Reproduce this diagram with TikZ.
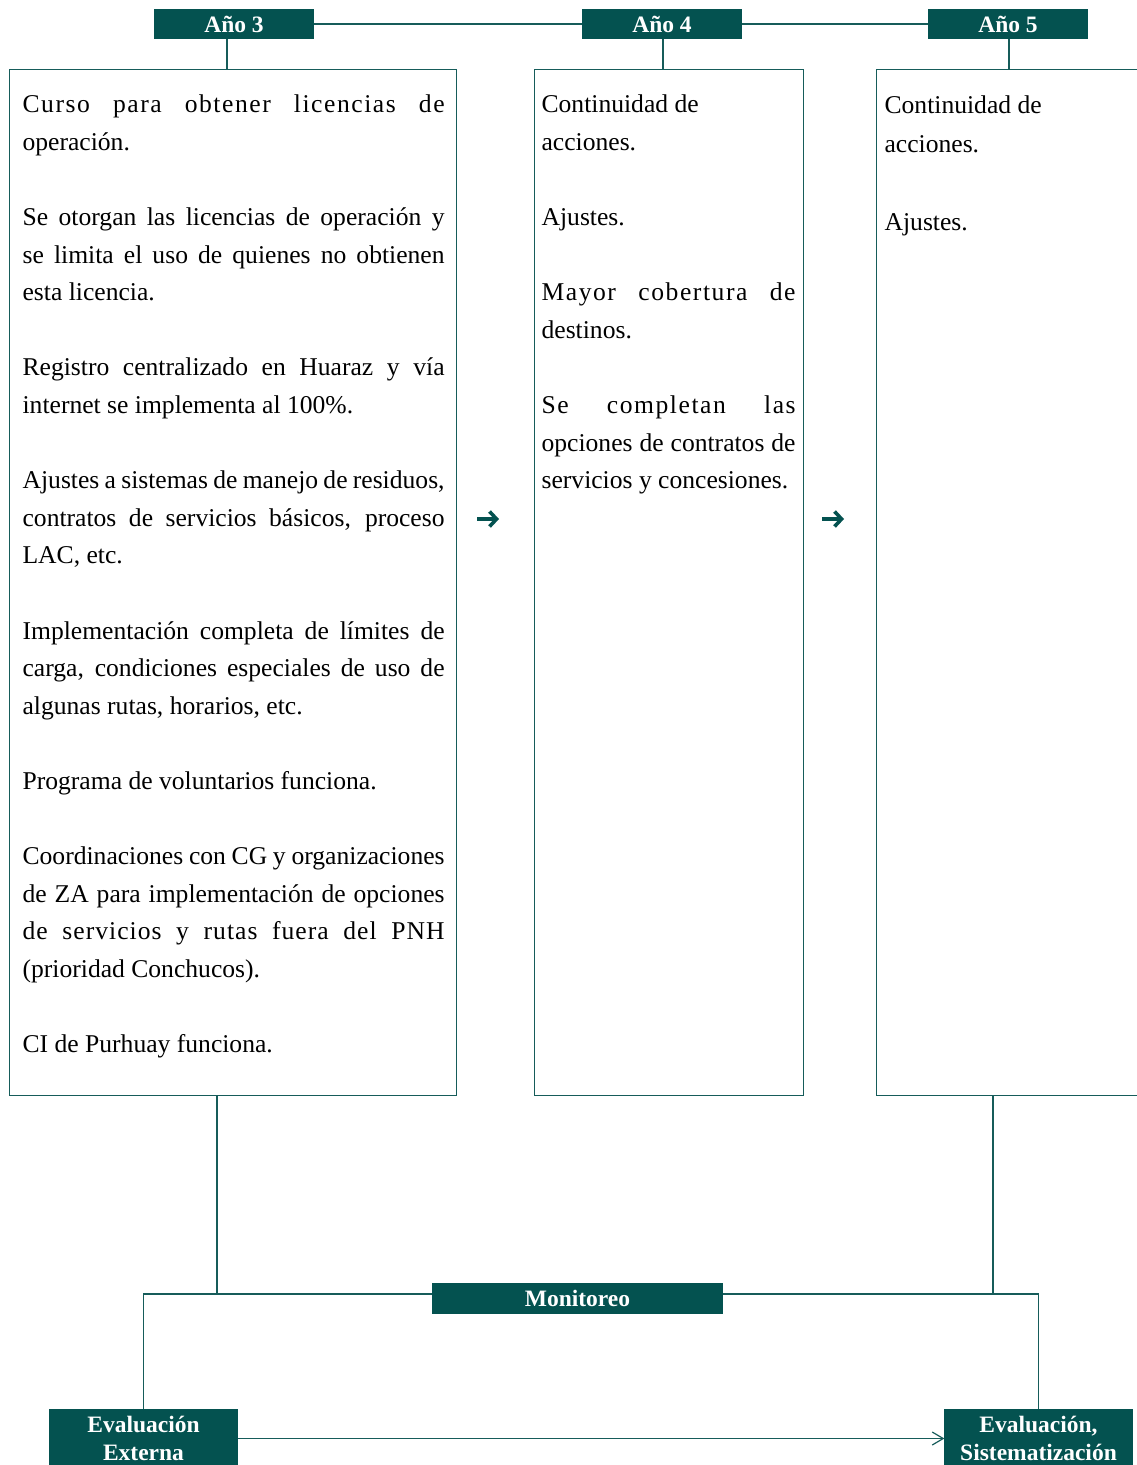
\documentclass[tikz,border=0pt]{standalone}
\usepackage{fontspec}
\setmainfont{Liberation Serif}
\usepackage{xcolor}
\usetikzlibrary{positioning,arrows.meta}

\definecolor{pnhteal}{RGB}{4,82,80}
\definecolor{pnhline}{RGB}{22,92,90}
\setlength{\parindent}{0pt}
\setlength{\parskip}{0pt}
\hyphenpenalty=10000
\exhyphenpenalty=10000
\tolerance=10000
\newcommand{\bodyfont}{\fontsize{25.6}{37.6}\selectfont}
\newcommand{\gap}{\par\vskip37.6pt}
\newcommand{\spread}[2]{{\addfontfeature{LetterSpace=#1}#2}}

\begin{document}
\begin{tikzpicture}[
  x=1pt, y=-1pt,
  line width=1.2pt,
  hdr/.style={fill=pnhteal, draw=pnhteal, text=white, inner sep=0pt,
              font=\fontsize{23.5}{27.5}\selectfont\bfseries,
              minimum width=158pt, minimum height=28pt},
  yearbox/.style={draw=pnhline, anchor=north west, inner sep=0pt,
                  minimum height=1026pt},
  txt/.style={anchor=north west, inner sep=0pt, align=justify, font=\bodyfont},
  evalbox/.style={hdr, align=center, minimum width=187pt, minimum height=57pt},
  link/.style={draw=pnhline},
  nextarr/.style={draw=pnhteal, line width=3.6pt,
                  -{Straight Barb[length=7pt, width=15pt]}},
  evalarr/.style={link, -{Straight Barb[length=11pt, width=13pt]}}]

\useasboundingbox (0,0) rectangle (1137,1465);

% year headers
\node[hdr] (hdr3) at (234,24) {Año 3};
\node[hdr] (hdr4) at (662,24) {Año 4};
\node[hdr] (hdr5) at (1008,24) {Año 5};

% year boxes
\node[yearbox, minimum width=447pt] (box3) at (9,69) {};
\node[yearbox, minimum width=269pt] (box4) at (534,69) {};
\node[yearbox, minimum width=269pt] (box5) at (876,69) {};

% box texts
\node[txt, text width=422pt] (txt3) at (22,92) {\rule{0pt}{20pt}\spread{6}{Curso para obtener licencias de}\linebreak operación.\gap
Se otorgan las licencias de operación y\linebreak se limita el uso de quienes no obtienen\linebreak esta licencia.\gap
Registro centralizado en Huaraz y vía\linebreak internet se implementa al 100\%.\gap
Ajustes a sistemas de manejo de residuos,\linebreak contratos de servicios básicos, proceso\linebreak LAC, etc.\gap
Implementación completa de límites de\linebreak carga, condiciones especiales de uso de\linebreak algunas rutas, horarios, etc.\gap
Programa de voluntarios funciona.\gap
Coordinaciones con CG y organizaciones\linebreak de ZA para implementación de opciones\linebreak \spread{4}{de servicios y rutas fuera del PNH}\linebreak (prioridad Conchucos).\gap
CI de Purhuay funciona.};

\node[txt, text width=254pt] (txt4) at (541,92) {\rule{0pt}{20pt}Continuidad de\newline acciones.\gap
Ajustes.\gap
\spread{6}{Mayor cobertura de}\linebreak destinos.\gap
\spread{6}{Se completan las}\linebreak opciones de contratos de\linebreak servicios y concesiones.};

\node[txt, text width=254pt, font=\fontsize{25.6}{39}\selectfont] (txt5) at (884,93) {\rule{0pt}{20pt}Continuidad de\newline acciones.\par\vskip39pt
Ajustes.};

% header links
\draw[link] (hdr3.east) -- (hdr4.west);
\draw[link] (hdr4.east) -- (hdr5.west);
\draw[link] ([xshift=-7pt]hdr3.south) -- ([xshift=-7pt]hdr3.south |- box3.north);
\draw[link] ([xshift=1pt]hdr4.south) -- ([xshift=1pt]hdr4.south |- box4.north);
\draw[link] ([xshift=1pt]hdr5.south) -- ([xshift=1pt]hdr5.south |- box5.north);

% arrows between years
\coordinate (n3a) at (477,519);
\coordinate (n3b) at (499,519);
\coordinate (n4a) at (822,519);
\coordinate (n4b) at (844,519);
\draw[nextarr] (n3a) -- (n3b);
\draw[nextarr] (n4a) -- (n4b);

% monitoring and evaluation
\coordinate (m3) at (217,1294);
\coordinate (m5) at (993,1294);
\node[evalbox] (evext) at (143.5,1438.5) {Evaluación\\Externa};
\node[evalbox] (evsis) at (1038.5,1438.5) {Evaluación,\\Sistematización};

\draw[link] (m3 |- box3.south) -- (m3);
\draw[link] (m5 |- box5.south) -- (m5);
\draw[link] (evext.north) |- (evsis.north |- m3) -- (evsis.north);
\node[hdr, minimum width=289pt, minimum height=29pt] (monit) at (577.5,1298.5) {Monitoreo};
\draw[evalarr] (evext.east) -- (evsis.west);
\end{tikzpicture}
\end{document}
